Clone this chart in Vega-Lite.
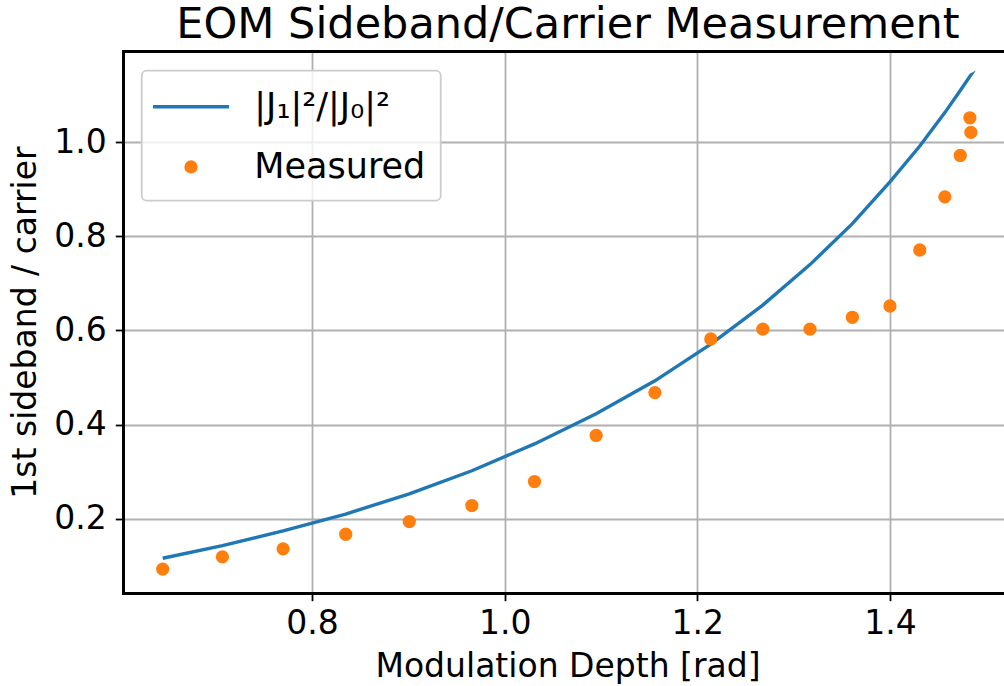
{
  "$schema": "https://vega.github.io/schema/vega-lite/v6.json",
  "width": 881,
  "height": 542,
  "autosize": {"type": "none"},
  "padding": {"left": 123, "top": 51, "right": 0, "bottom": 93},
  "background": "white",
  "title": {
    "text": "EOM Sideband/Carrier Measurement",
    "fontSize": 43,
    "fontWeight": "normal",
    "color": "black",
    "anchor": "middle",
    "frame": "group",
    "baseline": "alphabetic",
    "offset": 2,
    "dx": 4.5,
    "dy": 32
  },
  "data": {
    "values": [
      {"series": "|J₁|²/|J₀|²", "i": 0, "x": 0.645, "y": 0.116},
      {"series": "|J₁|²/|J₀|²", "i": 1, "x": 0.707, "y": 0.143},
      {"series": "|J₁|²/|J₀|²", "i": 2, "x": 0.770, "y": 0.174},
      {"series": "|J₁|²/|J₀|²", "i": 3, "x": 0.835, "y": 0.210},
      {"series": "|J₁|²/|J₀|²", "i": 4, "x": 0.901, "y": 0.253},
      {"series": "|J₁|²/|J₀|²", "i": 5, "x": 0.966, "y": 0.302},
      {"series": "|J₁|²/|J₀|²", "i": 6, "x": 1.031, "y": 0.359},
      {"series": "|J₁|²/|J₀|²", "i": 7, "x": 1.095, "y": 0.423},
      {"series": "|J₁|²/|J₀|²", "i": 8, "x": 1.156, "y": 0.493},
      {"series": "|J₁|²/|J₀|²", "i": 9, "x": 1.214, "y": 0.571},
      {"series": "|J₁|²/|J₀|²", "i": 10, "x": 1.268, "y": 0.654},
      {"series": "|J₁|²/|J₀|²", "i": 11, "x": 1.317, "y": 0.740},
      {"series": "|J₁|²/|J₀|²", "i": 12, "x": 1.361, "y": 0.827},
      {"series": "|J₁|²/|J₀|²", "i": 13, "x": 1.400, "y": 0.916},
      {"series": "|J₁|²/|J₀|²", "i": 14, "x": 1.431, "y": 0.992},
      {"series": "|J₁|²/|J₀|²", "i": 15, "x": 1.457, "y": 1.063},
      {"series": "|J₁|²/|J₀|²", "i": 16, "x": 1.473, "y": 1.110},
      {"series": "|J₁|²/|J₀|²", "i": 17, "x": 1.484, "y": 1.143},
      {"series": "|J₁|²/|J₀|²", "i": 18, "x": 1.483, "y": 1.142},
      {"series": "Measured", "i": 0, "x": 0.645, "y": 0.093},
      {"series": "Measured", "i": 1, "x": 0.707, "y": 0.119},
      {"series": "Measured", "i": 2, "x": 0.770, "y": 0.136},
      {"series": "Measured", "i": 3, "x": 0.835, "y": 0.167},
      {"series": "Measured", "i": 4, "x": 0.901, "y": 0.194},
      {"series": "Measured", "i": 5, "x": 0.966, "y": 0.228},
      {"series": "Measured", "i": 6, "x": 1.031, "y": 0.279},
      {"series": "Measured", "i": 7, "x": 1.095, "y": 0.377},
      {"series": "Measured", "i": 8, "x": 1.156, "y": 0.468},
      {"series": "Measured", "i": 9, "x": 1.214, "y": 0.582},
      {"series": "Measured", "i": 10, "x": 1.268, "y": 0.603},
      {"series": "Measured", "i": 11, "x": 1.317, "y": 0.603},
      {"series": "Measured", "i": 12, "x": 1.361, "y": 0.628},
      {"series": "Measured", "i": 13, "x": 1.400, "y": 0.652},
      {"series": "Measured", "i": 14, "x": 1.431, "y": 0.771},
      {"series": "Measured", "i": 15, "x": 1.457, "y": 0.884},
      {"series": "Measured", "i": 16, "x": 1.473, "y": 0.972},
      {"series": "Measured", "i": 17, "x": 1.484, "y": 1.021},
      {"series": "Measured", "i": 18, "x": 1.483, "y": 1.052}
    ]
  },
  "layer": [
    {
      "transform": [{"filter": "datum.series !== 'Measured'"}],
      "mark": {"type": "line", "strokeWidth": 3.4},
      "encoding": {
        "x": {
          "field": "x",
          "type": "quantitative",
          "scale": {"domain": [0.6038, 1.5184], "nice": false, "zero": false},
          "axis": {
            "orient": "bottom",
            "values": [0.8, 1.0, 1.2, 1.4],
            "format": ".1f",
            "labelPadding": 7,
            "title": "Modulation Depth [rad]",
            "titleBaseline": "alphabetic",
            "titleX": 444.5,
            "titleY": 83
          }
        },
        "y": {
          "field": "y",
          "type": "quantitative",
          "scale": {"domain": [0.0422, 1.1939], "nice": false, "zero": false},
          "axis": {
            "orient": "left",
            "values": [0.2, 0.4, 0.6, 0.8, 1.0],
            "format": ".1f",
            "labelPadding": 9,
            "title": "1st sideband / carrier",
            "titleBaseline": "alphabetic",
            "titleAngle": -90,
            "titleX": -88,
            "titleY": 271
          }
        },
        "color": {
          "field": "series",
          "type": "nominal",
          "scale": {"domain": ["|J₁|²/|J₀|²", "Measured"], "range": ["#1f77b4", "#ff7f0e"]},
          "legend": {
            "title": null,
            "encode": {
              "symbols": {
                "update": {
                  "fill": {"scale": "color", "field": "value"},
                  "stroke": {"scale": "color", "field": "value"},
                  "strokeWidth": {"value": 3.5},
                  "opacity": {"value": 1}
                }
              }
            }
          }
        },
        "order": {"field": "i", "type": "quantitative"}
      }
    },
    {
      "transform": [{"filter": "datum.series === 'Measured'"}],
      "mark": {"type": "point", "filled": true, "opacity": 1, "size": 1444, "stroke": "#ff7f0e", "strokeWidth": 3.5},
      "encoding": {
        "x": {
          "field": "x",
          "type": "quantitative",
          "axis": {"orient": "top", "labels": false, "ticks": false, "grid": false, "title": null, "domain": true}
        },
        "y": {"field": "y", "type": "quantitative", "axis": null},
        "color": {"field": "series", "type": "nominal"},
        "shape": {
          "field": "series",
          "type": "nominal",
          "scale": {
            "domain": ["|J₁|²/|J₀|²", "Measured"],
            "range": ["M-2,0L2,0", "M-0.258,0A0.258,0.258,0,1,1,0.258,0A0.258,0.258,0,1,1,-0.258,0Z"]
          },
          "legend": {
            "title": null,
            "encode": {
              "symbols": {
                "update": {
                  "fill": {"scale": "color", "field": "value"},
                  "stroke": {"scale": "color", "field": "value"},
                  "strokeWidth": {"value": 3.5},
                  "opacity": {"value": 1}
                }
              }
            }
          }
        }
      }
    }
  ],
  "resolve": {"axis": {"x": "independent", "y": "independent"}},
  "config": {
    "font": "DejaVu Sans",
    "view": {"stroke": null},
    "axis": {
      "labelFont": "DejaVu Sans",
      "labelFontSize": 33,
      "labelColor": "black",
      "labelFlush": false,
      "labelOverlap": false,
      "titleFont": "DejaVu Sans",
      "titleFontSize": 33,
      "titleFontWeight": "normal",
      "titleColor": "black",
      "tickColor": "black",
      "tickSize": 7.7,
      "tickWidth": 1.8,
      "domainColor": "black",
      "domainWidth": 3,
      "domainCap": "square",
      "gridColor": "#b0b0b0",
      "gridWidth": 1.8,
      "gridOpacity": 1
    },
    "legend": {
      "orient": "none",
      "legendX": 18.7,
      "legendY": 19.7,
      "padding": 15,
      "rowPadding": 21.2,
      "symbolSize": 1444,
      "symbolStrokeWidth": 3.5,
      "symbolOffset": 13.3,
      "labelOffset": 42.3,
      "labelLimit": 400,
      "labelFont": "DejaVu Sans",
      "labelFontSize": 35,
      "labelColor": "black",
      "strokeColor": "#cccccc",
      "fillColor": "rgba(255,255,255,0.8)",
      "cornerRadius": 5,
      "strokeWidth": 1.8
    }
  }
}
